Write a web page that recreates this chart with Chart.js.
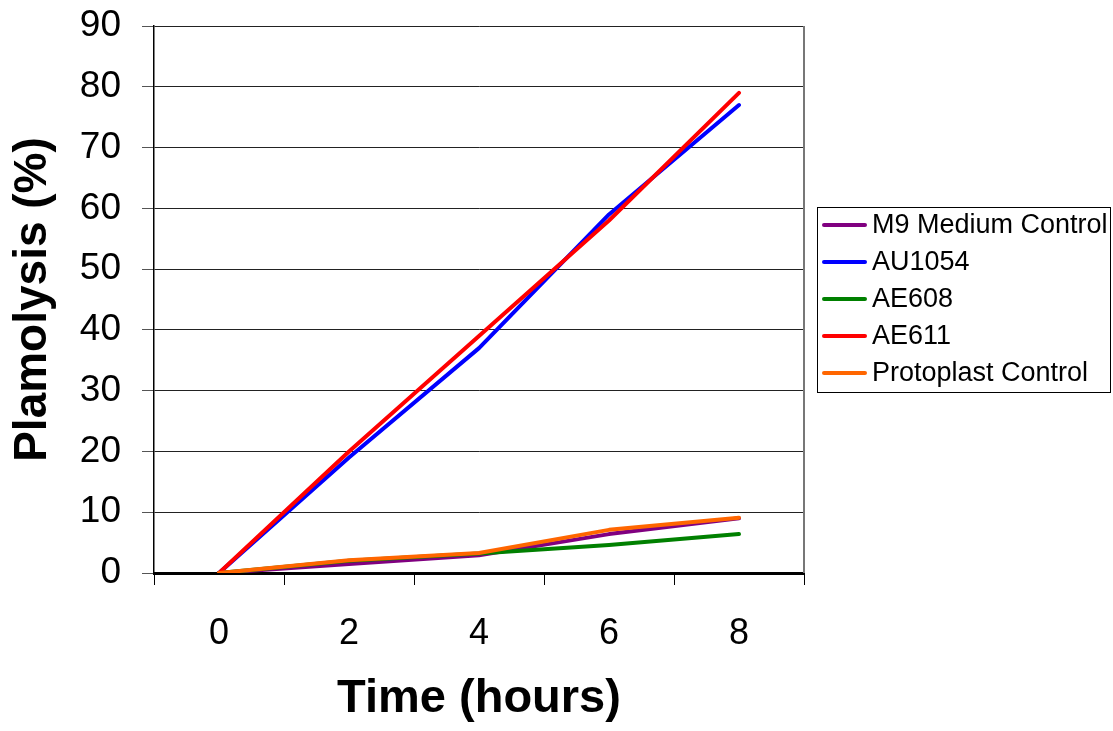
<!DOCTYPE html>
<html>
<head>
<meta charset="utf-8">
<script src="https://cdn.jsdelivr.net/npm/chart.js@4"></script>
<style>
  body { margin: 0; background: #fff; }
  #wrap { width: 1113px; height: 731px; position: relative; }
</style>
</head>
<body>
<div id="wrap"><canvas id="plasChart"></canvas></div>
<script>
const hours = ["0", "2", "4", "6", "8"];
const seriesNames = ["M9 Medium Control", "AU1054", "AE608", "AE611", "Protoplast Control"];
const m9Control = [0, 1.5, 2.9, 6.4, 9];
const au1054 = [0, 19, 37, 59, 77];
const ae608 = [0, 2, 3.2, 4.6, 6.4];
const ae611 = [0, 20, 39, 58, 79];
const protoplastControl = [0, 2.1, 3.3, 7.1, 9.1];
const colors = ["#800080", "#0000ff", "#008000", "#ff0000", "#ff6600"];

const FONT = "'Liberation Sans', Arial, sans-serif";

// Excel style frame: right edge of the plot area
const framePlugin = {
  id: "frame",
  beforeDatasetsDraw(chart) {
    const { ctx, chartArea: a } = chart;
    ctx.save();
    ctx.strokeStyle = "#777";
    ctx.lineWidth = 2;
    ctx.beginPath();
    ctx.moveTo(a.right, a.top);
    ctx.lineTo(a.right, a.bottom);
    ctx.stroke();
    ctx.restore();
  }
};

// boxed legend at the right, as in the original
const boxLegend = {
  id: "boxLegend",
  afterDraw(chart) {
    const ctx = chart.ctx;
    const x = 817, y = 207, w = 293, h = 185;
    ctx.save();
    ctx.strokeStyle = "#000";
    ctx.lineWidth = 1;
    ctx.strokeRect(x + 0.5, y + 0.5, w, h);
    ctx.font = "27px " + FONT;
    ctx.textBaseline = "middle";
    ctx.fillStyle = "#000";
    chart.data.datasets.forEach((ds, i) => {
      const cy = 225 + i * 37;
      ctx.strokeStyle = ds.borderColor;
      ctx.lineWidth = 4;
      ctx.lineCap = "round";
      ctx.beginPath();
      ctx.moveTo(x + 7, cy);
      ctx.lineTo(x + 48, cy);
      ctx.stroke();
      ctx.fillText(ds.label, x + 55, cy + 1);
    });
    ctx.restore();
  }
};

const seriesData = [m9Control, au1054, ae608, ae611, protoplastControl];

new Chart(document.getElementById("plasChart"), {
  type: "line",
  data: {
    labels: hours,
    datasets: seriesData.map((vals, i) => ({
      label: seriesNames[i],
      data: vals,
      borderColor: colors[i],
      backgroundColor: colors[i],
      borderWidth: 4,
      borderCapStyle: "round",
      borderJoinStyle: "round",
      pointRadius: 0,
      tension: 0,
      order: seriesData.length - i
    }))
  },
  options: {
    responsive: true,
    maintainAspectRatio: false,
    animation: false,
    layout: { padding: { top: 26, right: 309, left: 0, bottom: 0 } },
    plugins: {
      legend: { display: false },
      tooltip: { enabled: false }
    },
    scales: {
      x: {
        offset: true,
        grid: { offset: true, drawOnChartArea: false, drawTicks: true, tickLength: 12, color: "#000" },
        border: { color: "#000", width: 3 },
        ticks: { color: "#000", font: { family: FONT, size: 36 }, padding: 27, maxRotation: 0 },
        title: {
          display: true,
          text: "Time (hours)",
          color: "#000",
          font: { family: FONT, size: 47, weight: "bold" },
          padding: { top: 0, bottom: 4 }
        },
        afterFit(scale) {
          scale.height = 158;
          scale.paddingLeft = 0;
          scale.paddingRight = 0;
        }
      },
      y: {
        min: 0,
        max: 90,
        ticks: { stepSize: 10, color: "#000", font: { family: FONT, size: 37 }, padding: 21 },
        grid: { color: "#222", lineWidth: 1, tickLength: 12, tickColor: "#555" },
        border: { color: "#000", width: 1.5 },
        title: {
          display: true,
          text: "Plamolysis (%)",
          color: "#000",
          font: { family: FONT, size: 46, weight: "bold" },
          padding: { top: 6, bottom: 0 }
        },
        afterFit(scale) {
          scale.width = 154;
          scale.paddingTop = 0;
          scale.paddingBottom = 0;
        }
      }
    }
  },
  plugins: [framePlugin, boxLegend]
});
</script>
</body>
</html>
